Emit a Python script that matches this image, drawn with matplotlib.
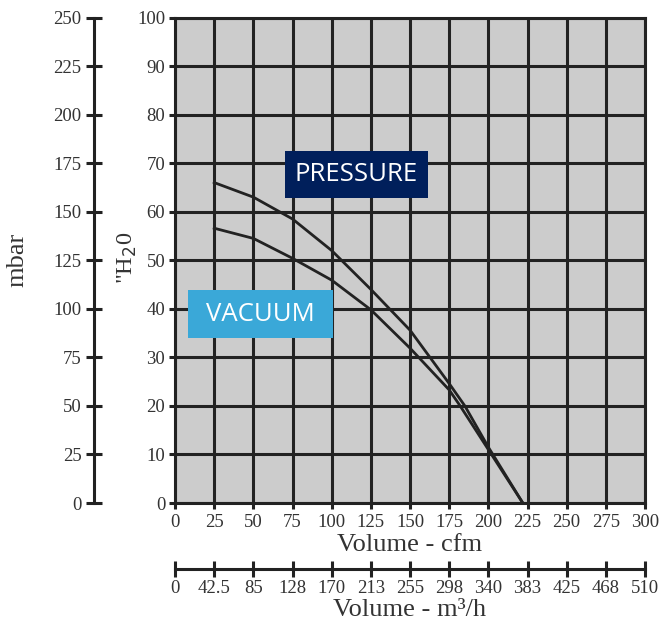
import matplotlib
matplotlib.use('Agg')
import matplotlib.pyplot as plt
from matplotlib.patches import Rectangle

# ---- data ----
pressure_cfm = [25, 50, 75, 100, 125, 150, 175, 185, 200, 222]
pressure_h2o = [66, 63, 58.5, 52, 44, 35.6, 24.6, 20, 11.5, 0]

vacuum_cfm = [25, 50, 75, 100, 125, 150, 175, 182, 200, 222]
vacuum_h2o = [56.6, 54.5, 50.4, 45.9, 39.8, 31.9, 23.3, 20, 11, 0]

cfm_ticks = list(range(0, 301, 25))
h2o_ticks = list(range(0, 101, 10))
mbar_ticks = list(range(0, 251, 25))
m3h_labels = ['0', '42.5', '85', '128', '170', '213', '255', '298',
              '340', '383', '425', '468', '510']

INK = '#222222'
TXT = '#333333'
SERIF = 'Liberation Serif'
LW = 2.2

fig = plt.figure(figsize=(6.6, 6.23), dpi=100)
ax = fig.add_axes([0.2652, 0.1926, 0.7121, 0.7793])
ax.set_facecolor('#cccccc')
ax.set_xlim(0, 300)
ax.set_ylim(0, 100)
ax.set_xticks(cfm_ticks)
ax.set_yticks(h2o_ticks)
ax.grid(True, color=INK, linewidth=LW)
ax.set_axisbelow(True)
for s in ax.spines.values():
    s.set_color(INK)
    s.set_linewidth(LW)
ax.tick_params(axis='both', colors=INK, width=LW, length=4, direction='out',
               labelsize=13.5, labelcolor=TXT)
ax.tick_params(axis='x', pad=4)
ax.tick_params(axis='y', pad=3)
for lab in ax.get_xticklabels() + ax.get_yticklabels():
    lab.set_family(SERIF)

ax.plot(pressure_cfm, pressure_h2o, color=INK, linewidth=2.0)
ax.plot(vacuum_cfm, vacuum_h2o, color=INK, linewidth=2.0)

ax.set_xlabel('Volume - cfm', family=SERIF, fontsize=19, color=TXT, labelpad=2)
ax.set_ylabel('"H$_2$0', family=SERIF, fontsize=17.5, color=TXT)
ax.yaxis.set_label_coords(-0.077, 0.505)

# mbar scale on the far left
sec_y = ax.secondary_yaxis(-0.1723, functions=(lambda y: y * 2.5, lambda y: y / 2.5))
sec_y.set_yticks(mbar_ticks)
sec_y.spines['left'].set_color(INK)
sec_y.spines['left'].set_linewidth(LW)
sec_y.tick_params(colors=INK, width=LW, length=12, direction='inout',
                  labelsize=13.5, labelcolor=TXT, pad=3)
for lab in sec_y.get_yticklabels():
    lab.set_family(SERIF)
sec_y.set_ylabel('mbar', family=SERIF, fontsize=19, color=TXT, labelpad=18)

# m3/h scale below
sec_x = ax.secondary_xaxis(-0.136)
sec_x.set_xticks(cfm_ticks, m3h_labels)
sec_x.spines['bottom'].set_color(INK)
sec_x.spines['bottom'].set_linewidth(LW)
sec_x.tick_params(colors=INK, width=LW, length=12, direction='inout',
                  labelsize=13.5, labelcolor=TXT, pad=2)
for lab in sec_x.get_xticklabels():
    lab.set_family(SERIF)
sec_x.set_xlabel('Volume - m³/h', family=SERIF, fontsize=19, color=TXT, labelpad=1)

# curve tags
ax.add_patch(Rectangle((70.2, 62.8), 91.3, 9.7, facecolor='#001f5b',
                       edgecolor='none', zorder=3))
ax.text(115.8, 67.6, 'PRESSURE', family='Open Sans', fontsize=18.5, color='white',
        ha='center', va='center', zorder=4)
ax.add_patch(Rectangle((8.3, 34.0), 92.5, 9.9, facecolor='#3aa8d8',
                       edgecolor='none', zorder=3))
ax.text(54.2, 38.9, 'VACUUM', family='Open Sans', fontsize=18.5, color='white',
        ha='center', va='center', zorder=4)

fig.savefig('out.png', dpi=100)
